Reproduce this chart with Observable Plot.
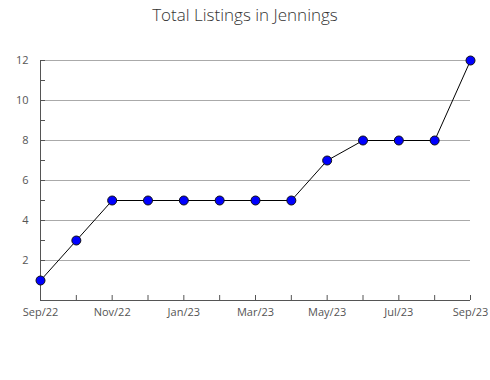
<!DOCTYPE html>
<html>
<head>
<meta charset="utf-8">
<script src="https://cdn.jsdelivr.net/npm/d3@7"></script>
<script src="https://cdn.jsdelivr.net/npm/@observablehq/plot@0.6"></script>
<style>
  body { margin: 0; background: #fff; font-family: "Open Sans", sans-serif; }
  #title { height: 30px; line-height: 30px; text-align: center; font-size: 17px; font-weight: 300; color: #333; width: 490px; }
</style>
</head>
<body>
<div id="title">Total Listings in Jennings</div>
<div id="chart"></div>
<script>
const months = ["Sep/22","Oct/22","Nov/22","Dec/22","Jan/23","Feb/23","Mar/23","Apr/23","May/23","Jun/23","Jul/23","Aug/23","Sep/23"];
const listings = [1,3,5,5,5,5,5,5,7,8,8,8,12];
const labeledMonths = ["Sep/22","Nov/22","Jan/23","Mar/23","May/23","Jul/23","Sep/23"];
const yLabelTicks = [2,4,6,8,10,12];
const yMinorTicks = [1,2,3,4,5,6,7,8,9,10,11,12];

const data = months.map((m, i) => ({month: m, value: listings[i]}));
const axisColor = "#555";
const gridColor = "#aaa";
const first = () => months[0];
const last = () => months[months.length - 1];

const chart = Plot.plot({
  width: 490,
  height: 350,
  marginLeft: 40,
  marginRight: 20,
  marginTop: 30,
  marginBottom: 80,
  style: {fontFamily: "'Open Sans', sans-serif", fontSize: "11px", color: axisColor, background: "#fff"},
  x: {type: "point", domain: months, padding: 0, round: false},
  y: {domain: [0, 12]},
  marks: [
    Plot.ruleY(yLabelTicks, {x1: first, x2: last, stroke: gridColor, strokeWidth: 1}),
    Plot.axisY({ticks: yMinorTicks, tickSize: -5, text: null, label: null, stroke: axisColor}),
    Plot.axisY({ticks: yLabelTicks, tickSize: 0, tickPadding: 12, label: null, fill: axisColor}),
    Plot.axisX({ticks: months, tickSize: -5, text: null, label: null, stroke: axisColor}),
    Plot.axisX({ticks: labeledMonths, tickSize: 0, tickPadding: 8, label: null, fill: axisColor}),
    Plot.ruleX([0], {x: first, y1: 0, y2: 12, stroke: axisColor}),
    Plot.ruleY([0], {x1: first, x2: last, stroke: axisColor}),
    Plot.line(data, {x: "month", y: "value", stroke: "#000", strokeWidth: 1}),
    Plot.dot(data, {x: "month", y: "value", r: 4.5, fill: "#0000ff", stroke: "#111", strokeWidth: 1})
  ]
});
document.getElementById("chart").appendChild(chart);
</script>
</body>
</html>
